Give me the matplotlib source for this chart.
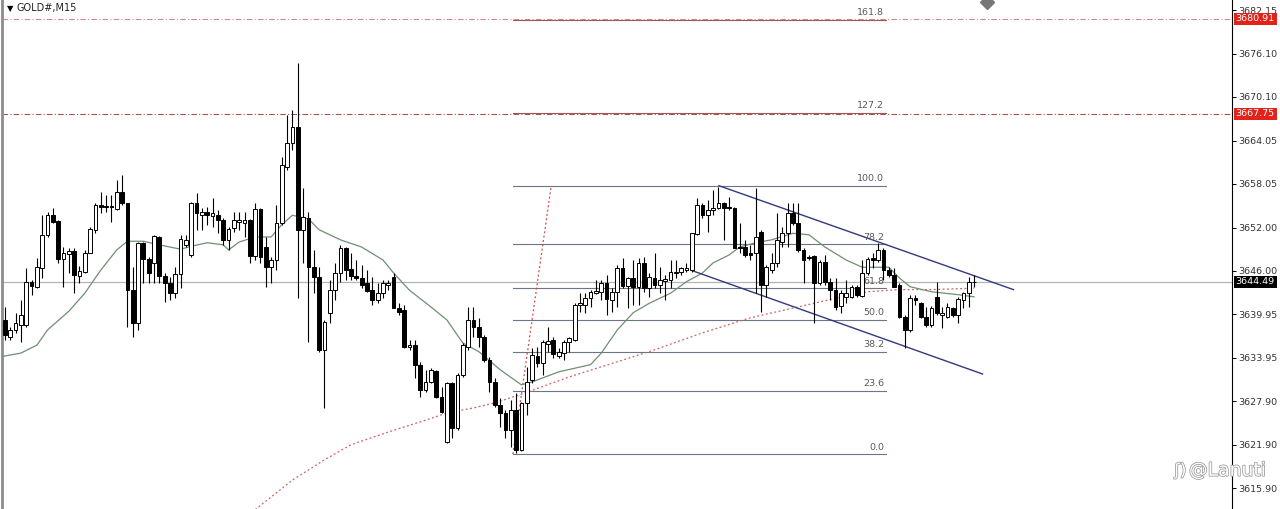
import matplotlib
matplotlib.use("Agg")
import matplotlib.pyplot as plt
import matplotlib.patheffects as pe
import matplotlib.transforms as mtransforms
import numpy as np

# GOLD#, M15 candles (index = bar number)
opens = [
    3639.2, 3636.8, 3637.8, 3638.5, 3638.5, 3644.5, 3643.8, 3646.4, 3651.0, 3653.7,
    3652.9, 3647.6, 3648.3, 3648.8, 3645.3, 3645.8, 3648.5, 3651.7, 3655.1, 3655.0,
    3655.0, 3654.6, 3656.9, 3655.4, 3643.4, 3638.8, 3649.9, 3647.6, 3647.1, 3650.7,
    3645.3, 3644.3, 3642.9, 3645.6, 3649.6, 3648.2, 3655.4, 3653.7, 3654.2, 3653.6,
    3653.7, 3653.1, 3650.3, 3651.9, 3652.8, 3652.6, 3653.1, 3648.1, 3654.6, 3649.3,
    3646.5, 3647.5, 3652.6, 3660.4, 3663.7, 3665.9, 3651.7, 3653.3, 3646.5, 3645.2,
    3635.0, 3640.2, 3643.4, 3645.7, 3649.2, 3646.3, 3645.3, 3645.0, 3644.3, 3643.4,
    3642.0, 3642.9, 3644.0, 3645.2, 3640.9, 3640.6, 3635.5, 3635.7, 3633.0, 3629.5,
    3630.6, 3632.1, 3628.5, 3622.3, 3630.5, 3624.2, 3631.6, 3635.5, 3639.2, 3638.2,
    3636.8, 3633.6, 3630.6, 3627.4, 3626.3, 3623.9, 3626.7, 3621.2, 3627.7, 3630.9,
    3634.2, 3633.2, 3635.9, 3636.4, 3634.2, 3634.6, 3636.1, 3636.4, 3641.3, 3641.3,
    3642.2, 3642.9, 3643.1, 3644.3, 3642.0, 3643.1, 3646.4, 3643.9, 3645.0, 3643.8,
    3647.1, 3643.6, 3645.0, 3644.0, 3644.6, 3644.7, 3645.7, 3645.8, 3646.1, 3646.1,
    3651.1, 3655.1, 3653.7, 3654.4, 3654.7, 3655.4, 3654.9, 3654.7, 3649.3, 3649.3,
    3648.5, 3648.5, 3651.4, 3644.0, 3646.1, 3647.1, 3650.0, 3651.2, 3654.0, 3652.6,
    3648.9, 3647.9, 3648.1, 3644.3, 3647.2, 3644.5, 3643.4, 3641.1, 3642.4, 3642.4,
    3643.8, 3642.5, 3645.7, 3647.8, 3647.5, 3648.9, 3646.1, 3645.4, 3644.0, 3639.6,
    3637.8, 3642.2, 3641.5, 3639.6, 3638.5, 3642.4, 3639.9, 3639.6, 3640.9, 3639.9,
    3642.0, 3642.9, 3644.4]

highs = [
    3641.0, 3638.2, 3640.2, 3642.0, 3646.4, 3644.7, 3647.8, 3653.7, 3654.2, 3654.7,
    3653.0, 3649.3, 3649.2, 3649.2, 3646.7, 3648.9, 3652.1, 3655.4, 3656.9, 3656.5,
    3656.5, 3658.6, 3659.3, 3655.4, 3646.5, 3650.0, 3650.0, 3647.9, 3651.0, 3650.8,
    3645.7, 3645.2, 3646.5, 3651.0, 3651.0, 3655.5, 3656.8, 3654.7, 3654.9, 3656.1,
    3654.4, 3653.3, 3652.1, 3654.2, 3654.2, 3654.2, 3653.2, 3655.4, 3654.7, 3650.7,
    3647.9, 3655.1, 3661.8, 3667.6, 3668.3, 3674.8, 3657.5, 3654.2, 3648.9, 3646.5,
    3639.2, 3644.7, 3647.1, 3649.6, 3649.3, 3648.5, 3647.5, 3646.8, 3646.1, 3645.2,
    3644.3, 3644.7, 3644.7, 3645.7, 3641.5, 3641.3, 3636.4, 3636.4, 3633.4, 3632.3,
    3632.5, 3632.3, 3629.9, 3630.6, 3630.6, 3631.8, 3636.0, 3641.0, 3641.0, 3639.5,
    3637.1, 3634.1, 3631.2, 3628.4, 3626.7, 3628.1, 3629.1, 3627.8, 3632.7, 3635.3,
    3635.5, 3636.4, 3638.2, 3636.8, 3635.3, 3636.4, 3636.8, 3641.5, 3642.9, 3642.9,
    3643.4, 3644.7, 3644.7, 3645.4, 3643.6, 3646.8, 3647.8, 3645.2, 3647.5, 3647.8,
    3647.9, 3645.7, 3648.5, 3646.5, 3645.4, 3647.5, 3647.5, 3646.5, 3647.1, 3651.3,
    3656.1, 3655.4, 3655.8, 3657.2, 3657.6, 3655.5, 3656.2, 3654.9, 3652.6, 3650.3,
    3649.6, 3657.5, 3651.7, 3646.8, 3648.5, 3654.0, 3652.1, 3655.4, 3655.4, 3655.4,
    3649.2, 3648.2, 3648.2, 3647.5, 3648.2, 3645.0, 3645.0, 3643.4, 3644.7, 3644.0,
    3644.0, 3647.5, 3647.9, 3648.5, 3649.9, 3649.2, 3646.5, 3646.4, 3644.3, 3639.9,
    3642.7, 3642.7, 3641.7, 3641.0, 3641.1, 3644.5, 3641.0, 3641.5, 3641.0, 3642.4,
    3643.1, 3645.2, 3645.4]

lows = [
    3636.4, 3636.4, 3637.4, 3636.1, 3638.2, 3642.7, 3643.6, 3645.0, 3650.7, 3652.6,
    3647.1, 3643.8, 3645.7, 3642.9, 3644.3, 3645.7, 3648.5, 3651.2, 3654.0, 3654.2,
    3652.8, 3654.4, 3655.1, 3638.2, 3636.8, 3637.8, 3644.3, 3644.3, 3644.3, 3644.3,
    3641.7, 3642.0, 3642.2, 3643.6, 3649.3, 3647.9, 3651.7, 3651.7, 3652.4, 3652.1,
    3651.2, 3649.6, 3648.9, 3651.4, 3651.7, 3650.7, 3647.1, 3647.5, 3647.1, 3643.8,
    3644.3, 3646.1, 3652.4, 3660.0, 3662.8, 3642.2, 3647.1, 3636.1, 3642.9, 3634.8,
    3627.0, 3638.8, 3642.0, 3644.5, 3644.7, 3644.7, 3644.7, 3643.6, 3643.1, 3641.3,
    3641.5, 3642.2, 3643.4, 3640.8, 3639.9, 3635.3, 3635.0, 3631.2, 3628.5, 3629.2,
    3630.5, 3628.4, 3626.3, 3622.1, 3622.8, 3623.9, 3631.3, 3635.0, 3636.8, 3635.5,
    3633.4, 3629.2, 3627.1, 3624.4, 3622.8, 3621.6, 3620.8, 3621.0, 3626.0, 3630.5,
    3632.7, 3631.6, 3634.8, 3633.9, 3633.9, 3633.6, 3634.8, 3636.3, 3640.3, 3640.2,
    3641.0, 3642.8, 3642.0, 3639.9, 3640.3, 3641.0, 3643.6, 3640.9, 3641.3, 3641.3,
    3643.1, 3642.4, 3643.6, 3642.9, 3642.0, 3643.6, 3645.0, 3645.4, 3645.8, 3645.8,
    3651.0, 3653.3, 3651.4, 3653.7, 3654.6, 3650.3, 3654.4, 3649.1, 3648.5, 3647.9,
    3647.5, 3642.9, 3640.3, 3642.4, 3645.7, 3646.5, 3649.3, 3649.3, 3652.4, 3648.6,
    3644.3, 3647.5, 3638.8, 3644.0, 3644.0, 3642.0, 3640.6, 3640.2, 3641.5, 3642.3,
    3642.4, 3642.4, 3645.4, 3646.4, 3647.2, 3644.7, 3645.2, 3643.7, 3639.5, 3635.3,
    3637.5, 3641.3, 3639.5, 3638.2, 3638.2, 3639.9, 3638.1, 3639.5, 3639.6, 3638.8,
    3640.9, 3641.0, 3643.8]

closes = [
    3637.1, 3637.8, 3638.8, 3639.9, 3644.5, 3643.9, 3646.5, 3651.0, 3653.7, 3652.8,
    3647.6, 3648.5, 3648.8, 3645.4, 3646.0, 3648.5, 3651.8, 3655.1, 3654.9, 3654.9,
    3654.8, 3656.9, 3655.4, 3643.4, 3638.8, 3649.9, 3647.6, 3645.7, 3650.8, 3645.3,
    3644.3, 3642.9, 3645.6, 3650.4, 3650.3, 3655.4, 3654.0, 3654.2, 3653.7, 3654.0,
    3653.1, 3650.3, 3651.8, 3653.1, 3653.1, 3653.1, 3648.1, 3654.6, 3647.9, 3646.5,
    3647.5, 3652.6, 3660.7, 3663.7, 3665.9, 3651.7, 3653.5, 3646.5, 3645.2, 3635.0,
    3638.9, 3643.4, 3645.7, 3649.2, 3646.1, 3645.3, 3645.0, 3644.0, 3643.2, 3642.0,
    3642.9, 3644.3, 3644.3, 3640.9, 3640.3, 3635.5, 3635.7, 3633.0, 3629.5, 3630.6,
    3632.3, 3628.5, 3626.4, 3630.5, 3624.2, 3631.6, 3635.7, 3639.2, 3638.2, 3636.8,
    3633.6, 3630.6, 3627.4, 3626.3, 3623.9, 3626.7, 3621.2, 3627.7, 3630.6, 3634.3,
    3633.2, 3636.1, 3636.3, 3634.5, 3634.8, 3636.1, 3636.7, 3641.3, 3641.5, 3642.2,
    3643.1, 3643.2, 3644.3, 3642.1, 3643.1, 3646.4, 3643.9, 3645.0, 3643.8, 3647.1,
    3643.6, 3645.2, 3644.0, 3644.7, 3644.9, 3645.8, 3645.8, 3646.4, 3646.4, 3651.2,
    3655.1, 3653.7, 3654.4, 3654.7, 3655.4, 3654.7, 3654.7, 3649.2, 3649.2, 3648.2,
    3648.2, 3650.7, 3644.0, 3646.5, 3647.1, 3650.3, 3651.2, 3654.0, 3652.6, 3648.9,
    3647.5, 3647.8, 3644.3, 3647.2, 3644.5, 3643.4, 3641.0, 3642.9, 3642.9, 3643.8,
    3642.7, 3645.7, 3647.6, 3647.5, 3648.9, 3646.1, 3645.4, 3643.8, 3639.6, 3637.8,
    3642.2, 3642.0, 3639.6, 3638.5, 3640.9, 3640.2, 3640.2, 3641.0, 3639.9, 3642.1,
    3642.9, 3644.5, 3644.5]

# moving averages (bar index, price)
ma_fast_idx = [-1, 0, 3, 6, 8, 12, 15, 18, 21, 23, 26, 29, 33, 35, 38, 41, 42, 44, 47, 50,
               52, 54, 57, 59, 63, 67, 71, 73, 76, 80, 83, 86, 89, 93, 97, 99, 104, 110,
               112, 115, 118, 121, 125, 128, 131, 133, 136, 138, 141, 144, 148, 151, 154,
               158, 161, 166, 168, 170, 174, 179, 182]
ma_fast_val = [3633.9, 3634.2, 3634.6, 3635.7, 3637.8, 3640.4, 3642.9, 3646.1, 3648.9, 3650.1,
               3650.1, 3649.6, 3649.0, 3649.4, 3649.9, 3649.6, 3648.9, 3650.0, 3650.7, 3650.7,
               3652.4, 3653.7, 3653.2, 3651.7, 3650.3, 3649.3, 3647.5, 3645.7, 3643.3, 3641.0,
               3639.2, 3636.0, 3634.8, 3632.3, 3630.2, 3630.6, 3632.0, 3633.0, 3634.6, 3637.8,
               3640.2, 3641.5, 3642.9, 3644.5, 3645.7, 3647.1, 3648.2, 3649.3, 3649.9, 3650.3,
               3651.2, 3651.0, 3649.3, 3647.5, 3646.5, 3646.5, 3645.0, 3643.8, 3643.1, 3642.7,
               3642.4]

ma_slow_idx = [47, 54, 60, 65, 73, 79, 83, 88, 92, 97, 106, 112, 121, 131, 140, 149, 156,
               162, 168, 174, 182]
ma_slow_val = [3612.9, 3617.0, 3619.8, 3621.9, 3623.9, 3625.3, 3626.3, 3627.0, 3627.7,
               3628.9, 3631.3, 3632.7, 3634.8, 3637.4, 3639.5, 3641.0, 3642.2, 3643.1,
               3643.4, 3643.4, 3643.6]

# fibonacci retracement
fib_low = 3620.6
fib_high = 3657.8
fib_levels = [0.0, 23.6, 38.2, 50.0, 61.8, 78.2, 100.0, 127.2, 161.8]
fib_anchor_idx = [95.4, 102.6]
fib_end_idx = 165.4

# descending channel (bar index, price)
chan_upper_idx = [134.1, 189.4]
chan_upper_val = [3657.8, 3643.4]
chan_lower_idx = [128.8, 183.6]
chan_lower_val = [3646.1, 3631.7]

# horizontal levels
target_levels = [3680.91, 3667.75]
last_price = 3644.49
price_ticks = [3682.15, 3676.10, 3670.10, 3664.05, 3658.05, 3652.00, 3646.00,
               3639.95, 3633.95, 3627.90, 3621.90, 3615.90]

assert len(opens) == len(highs) == len(lows) == len(closes)

fig = plt.figure(figsize=(12.8, 5.09), dpi=100)
ax = fig.add_axes([0.0015, 0.0, 0.961, 1.0])
ax.set_xlim(-0.56, 230.45)
ax.set_ylim(3612.99, 3683.54)

x = np.arange(len(opens))
o = np.array(opens)
c = np.array(closes)

# horizontal reference lines
ax.axhline(target_levels[0], color="#d88a8a", lw=0.8, ls=(0, (5, 2, 1, 2)), zorder=1)
ax.axhline(target_levels[1], color="#b05050", lw=0.8, ls=(0, (5, 2, 1, 2)), zorder=1)
ax.axhline(last_price, color="#b4b4b4", lw=0.9, zorder=1)

# fib levels
fib_rng = fib_high - fib_low
for lv in fib_levels:
    p = fib_low + fib_rng * lv / 100.0
    col = "#9a5a5a" if lv > 100 else "#6d7584"
    ax.plot([fib_anchor_idx[0], fib_end_idx], [p, p], color=col, lw=0.8, zorder=2)
    ax.text(fib_end_idx - 0.3, p + 0.35, f"{lv:.1f}", ha="right", va="bottom",
            fontsize=6.8, color="#5a5a5a", zorder=3)
ax.plot(fib_anchor_idx, [fib_low, fib_high], color="#d04848", lw=0.9,
        ls=(0, (1.5, 2)), zorder=2)

# moving averages
ax.plot(ma_slow_idx, ma_slow_val, color="#d06060", lw=0.9, ls=(0, (1.5, 2)), zorder=2)
ax.plot(ma_fast_idx, ma_fast_val, color="#6f8f72", lw=0.9, zorder=2)

# channel
ax.plot(chan_upper_idx, chan_upper_val, color="#34387e", lw=1.0, zorder=2)
ax.plot(chan_lower_idx, chan_lower_val, color="#34387e", lw=1.0, zorder=2)

# candles
ax.vlines(x, lows, highs, color="black", lw=0.8, zorder=3)
up = c >= o
body_lo = np.minimum(o, c)
body_h = np.maximum(np.abs(c - o), 0.12)
ax.bar(x[up], body_h[up], bottom=body_lo[up], width=0.7, color="white",
       edgecolor="black", linewidth=0.7, zorder=4)
ax.bar(x[~up], body_h[~up], bottom=body_lo[~up], width=0.7, color="black",
       edgecolor="black", linewidth=0.7, zorder=4)

# axes styling
for s in ["top", "bottom"]:
    ax.spines[s].set_visible(False)
ax.spines["left"].set_color("#8c8c8c")
ax.spines["left"].set_linewidth(2.0)
ax.spines["right"].set_color("black")
ax.spines["right"].set_linewidth(0.8)
ax.set_xticks([])
ax.yaxis.tick_right()
ax.set_yticks(price_ticks)
ax.set_yticklabels([f"{t:.2f}" for t in price_ticks])
ax.tick_params(axis="y", direction="out", length=3, width=0.7, labelsize=6.8,
               labelcolor="#333333", pad=1.5)

# price tags on the scale
trans = mtransforms.blended_transform_factory(ax.transAxes, ax.transData)
for lv in target_levels:
    ax.text(1.003, lv, f"{lv:.2f}", transform=trans, ha="left", va="center",
            fontsize=6.8, color="white", zorder=6, clip_on=False,
            bbox=dict(boxstyle="square,pad=0.18", fc="#e2231a", ec="none"))
ax.text(1.003, last_price, f"{last_price:.2f}", transform=trans, ha="left", va="center",
        fontsize=6.8, color="white", zorder=6, clip_on=False,
        bbox=dict(boxstyle="square,pad=0.18", fc="black", ec="none"))

# title and marks
ax.text(0.004, 0.984, "\u25bc", transform=ax.transAxes, fontsize=6, va="center",
        ha="left", color="black")
ax.text(0.012, 0.984, "GOLD#,M15", transform=ax.transAxes, fontsize=7, va="center",
        ha="left", color="#222222")
ax.plot([184.5], [3683.2], marker="D", ms=7, color="#777777", clip_on=True, zorder=5)

# watermark
fig.text(0.989, 0.076, "@Lanuti", ha="right", va="center", fontsize=13.5, color="white",
         path_effects=[pe.withStroke(linewidth=1.1, foreground="#9a9a9a")], zorder=10)
fig.text(0.927, 0.076, "\u0283)", ha="right", va="center", fontsize=12, color="white",
         path_effects=[pe.withStroke(linewidth=1.1, foreground="#9a9a9a")], zorder=10)

fig.savefig("out.png", dpi=100, facecolor="white")
